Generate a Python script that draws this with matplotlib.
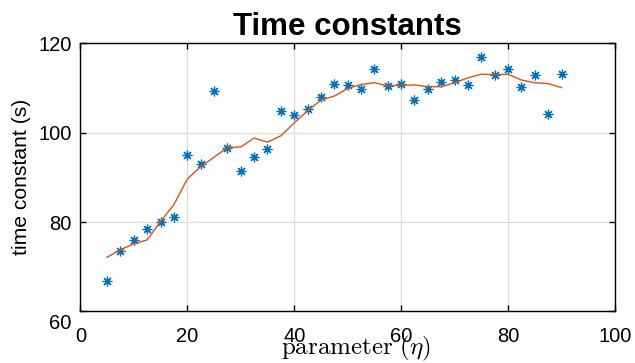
import matplotlib
matplotlib.use("Agg")
import matplotlib.pyplot as plt
from matplotlib.transforms import ScaledTranslation

plt.rcParams['font.family'] = ['Liberation Sans', 'DejaVu Sans']
plt.rcParams['mathtext.fontset'] = 'cm'

eta = [5, 7.5, 10, 12.5, 15, 17.5, 20, 22.5, 25, 27.5, 30, 32.5, 35, 37.5,
       40, 42.5, 45, 47.5, 50, 52.5, 55, 57.5, 60, 62.5, 65, 67.5, 70, 72.5,
       75, 77.5, 80, 82.5, 85, 87.5, 90]
tau_measured = [66.9, 73.6, 76.0, 78.5, 80.1, 81.1, 95.0, 93.0, 109.4, 96.5,
                91.5, 94.5, 96.3, 104.8, 104.0, 105.4, 108.1, 110.8, 110.7,
                109.9, 114.2, 110.5, 111.0, 107.3, 109.9, 111.3, 111.9, 110.7,
                117.0, 112.9, 114.3, 110.2, 113.0, 104.2, 113.2]
tau_smooth = [72.1, 73.8, 75.1, 76.0, 80.1, 83.9, 89.6, 92.4, 94.5, 96.7,
              96.8, 98.8, 97.9, 99.3, 102.2, 104.9, 107.3, 108.2, 109.9,
              110.8, 111.2, 110.5, 110.6, 110.7, 110.3, 110.3, 111.2, 112.3,
              113.1, 113.0, 113.1, 111.8, 111.2, 111.0, 110.1]
xticks = [0, 20, 40, 60, 80, 100]
yticks = [60, 80, 100, 120]

fig = plt.figure(figsize=(6.35, 3.63), dpi=100)
ax = fig.add_axes([0.1265, 0.1424, 0.842, 0.7380])

ax.plot(eta, tau_measured, linestyle='none', marker=(8, 2, 0), markersize=7,
        markeredgewidth=0.9, color='#0072BD')
ax.plot(eta, tau_smooth, color='#D95319', linewidth=1.0)

ax.set_xlim(0, 100)
ax.set_ylim(60, 120)
ax.set_xticks(xticks)
ax.set_yticks(yticks)
ax.grid(True, color='#dcdcdc', linewidth=0.9)
ax.set_axisbelow(True)
ax.tick_params(direction='in', top=True, right=True, length=4, width=1,
               labelsize=14.5, colors='black')
ax.tick_params(axis='x', pad=11)
ax.tick_params(axis='y', pad=6.2)
for s in ax.spines.values():
    s.set_linewidth(1.0)

# nudge the lowest y label down so it clears the x origin label
low = ax.yaxis.get_major_ticks()[0].label1
low.set_transform(low.get_transform() + ScaledTranslation(0, -0.10, fig.dpi_scale_trans))

ax.set_title('Time constants', fontsize=22.5, fontweight='bold', pad=6)
ax.set_ylabel('time constant (s)', fontsize=15.2, labelpad=5)
ax.set_xlabel(r'$\mathrm{parameter}\ (\eta)$', fontsize=18)
ax.xaxis.set_label_coords(0.516, -0.086)

fig.savefig('out.png', dpi=100)
